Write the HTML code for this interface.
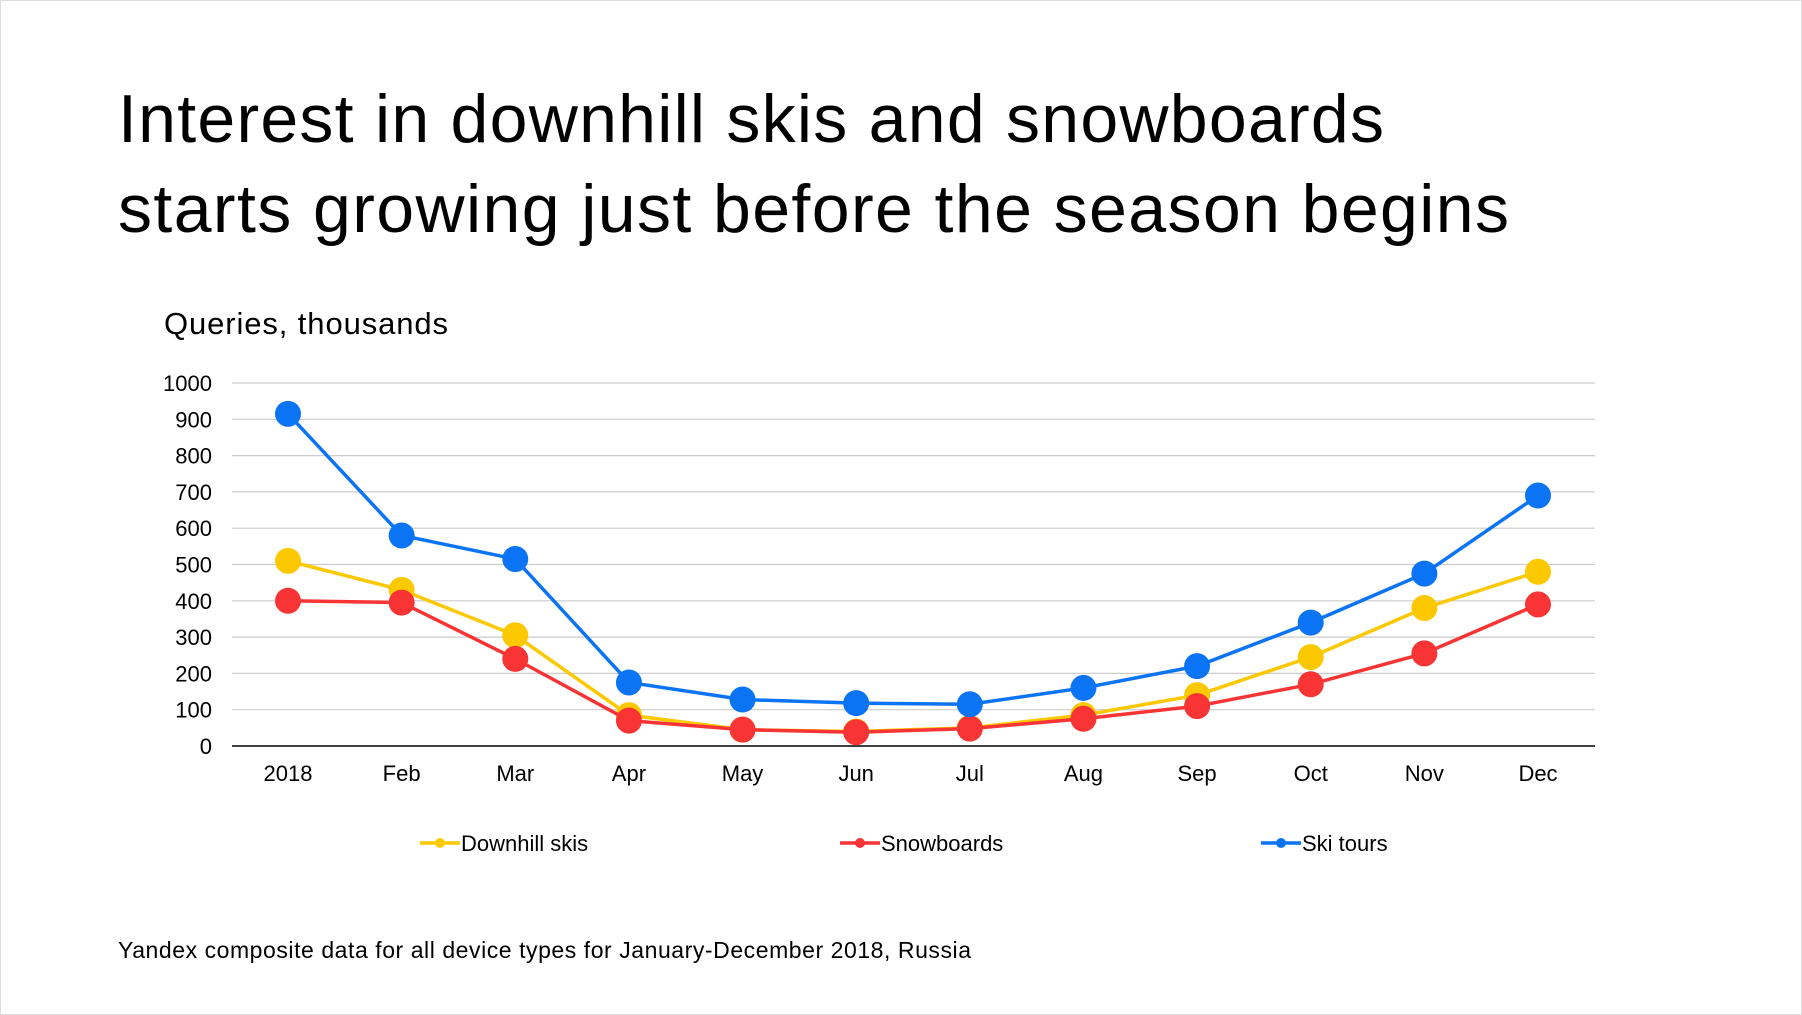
<!DOCTYPE html>
<html><head><meta charset="utf-8"><style>
html,body{margin:0;padding:0;background:#fff;}
body{width:1802px;height:1015px;overflow:hidden;font-family:"Liberation Sans",sans-serif;position:relative;}
#frame{position:absolute;left:0;top:0;width:1800px;height:1013px;border:1px solid #ddd;}
</style></head><body>
<div id="frame"></div>
<svg id="chart" width="1802" height="1015" style="position:absolute;left:0;top:0">
<text x="118" y="142" font-size="68" fill="#000" textLength="1266" lengthAdjust="spacing">Interest in downhill skis and snowboards</text>
<text x="118" y="232" font-size="68" fill="#000" textLength="1391" lengthAdjust="spacing">starts growing just before the season begins</text>
<text x="164" y="334" font-size="31" fill="#000" textLength="284" lengthAdjust="spacing">Queries, thousands</text>
<text x="118" y="958" font-size="23" fill="#000" textLength="853" lengthAdjust="spacing">Yandex composite data for all device types for January-December 2018, Russia</text>
<g id="grid"></g><g id="series"></g><g id="legend"></g>
</svg>
<script>
const months=["2018","Feb","Mar","Apr","May","Jun","Jul","Aug","Sep","Oct","Nov","Dec"];
const yTicks=[0,100,200,300,400,500,600,700,800,900,1000];
const downhill=[510,430,305,85,45,40,50,85,140,245,380,480];
const snowboards=[400,395,240,70,45,38,48,75,110,170,255,390];
const skiTours=[915,580,515,175,128,118,115,160,220,340,475,690];
const seriesNames=["Downhill skis","Snowboards","Ski tours"];
const NS="http://www.w3.org/2000/svg";
const x=i=>288+i*(1538-288)/11;
const y=v=>746-v*(746-383)/1000;
function mk(t,a,p){const e=document.createElementNS(NS,t);for(const k in a)e.setAttribute(k,a[k]);p.appendChild(e);return e;}
const grid=document.getElementById('grid');
yTicks.forEach(v=>{
  const l=mk('line',{x1:232,x2:1595,y1:y(v),y2:y(v),stroke:v===0?'#000':'#ccc','stroke-width':v===0?1.5:1.2},grid);
  
  
  const t=mk('text',{x:212,y:y(v)+8,'font-size':22,'text-anchor':'end',fill:'#000'},grid);
  t.textContent=v;
  
  
});
months.forEach((m,i)=>{
  const t=mk('text',{x:x(i),y:781,'font-size':22,'text-anchor':'middle',fill:'#000'},grid);
  t.textContent=m;
  
  
});
const sdata=[downhill,snowboards,skiTours];
const colors=["#fcc800","#f83434","#0b74f5"];
const sg=document.getElementById('series');
sdata.forEach((d,s)=>{
  const g=mk('g',{},sg);
  
  
  const p=mk('polyline',{points:d.map((v,i)=>x(i)+','+y(v)).join(' '),fill:'none',stroke:colors[s],'stroke-width':3.5},g);
  
  
  d.forEach((v,i)=>{
    const c=mk('circle',{cx:x(i),cy:y(v),r:13,fill:colors[s]},g);
    
    
  });
});
const lg=document.getElementById('legend');
const lx=[420,840,1261];
seriesNames.forEach((n,s)=>{
  const g=mk('g',{},lg);
  
  
  mk('line',{x1:lx[s],x2:lx[s]+40,y1:843,y2:843,stroke:colors[s],'stroke-width':3.5},g);
  mk('circle',{cx:lx[s]+20,cy:843,r:5,fill:colors[s]},g);
  const t=mk('text',{x:lx[s]+41,y:851,'font-size':22,fill:'#000'},g);
  t.textContent=n;
  
  
});
</script>
</body></html>
